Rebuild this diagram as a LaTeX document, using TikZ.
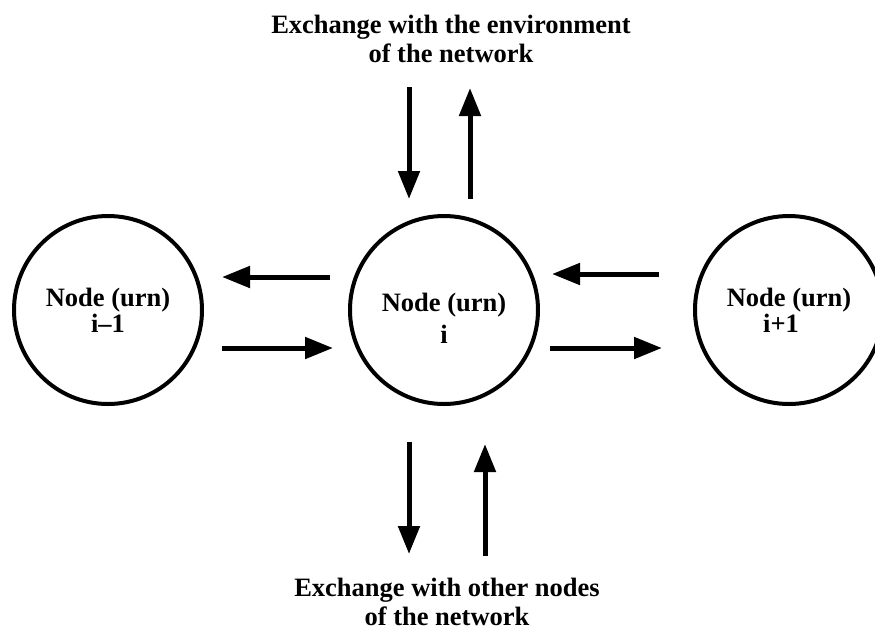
\documentclass[tikz,border=0pt]{standalone}
\usepackage{fontspec}
\setmainfont{Liberation Serif}
\usetikzlibrary{arrows.meta, positioning, calc}

\begin{document}
\begin{tikzpicture}[
    x=0.5pt, y=-0.5pt,
    node distance=168pt,
    urn/.style={circle, draw, line width=2pt, minimum size=94pt, inner sep=0pt, align=center, font=\fontsize{13.25}{13}\selectfont\bfseries},
    caption/.style={align=center, font=\fontsize{13.25}{14.5}\selectfont\bfseries},
    flow/.style={-{Triangle[length=14pt, width=10.5pt]}, line width=2.5pt}
]
    \useasboundingbox (0,0) rectangle (875,629);

    \node[urn] (mid) at (444,310) {\rule{0pt}{17.5pt}Node (urn)\\[3pt]i};
    \node[urn, left of=mid] (prev) {Node (urn)\\i--1};
    \node[urn, right of=mid, xshift=4.5pt] (next) {Node (urn)\\\hspace*{-8pt}i+1};

    \node[caption] (env) at (451,39) {Exchange with the environment\\of the network};
    \node[caption] (net) at (447,602) {Exchange with other nodes\\of the network};

    % between the urns
    \draw[flow] ($(mid.west)+(-18,-33)$) -- ($(prev.east)+(18,-33)$);
    \draw[flow] ($(prev.east)+(18,38)$) -- ($(mid.west)+(-15,38)$);
    \draw[flow] ($(next.west)+(-34,-36)$) -- ($(mid.east)+(12,-36)$);
    \draw[flow] ($(mid.east)+(10,38)$) -- ($(next.west)+(-31,38)$);

    % environment and other nodes
    \draw[flow] ($(mid.north)+(-35,-127)$) -- ($(mid.north)+(-35,-15)$);
    \draw[flow] ($(mid.north)+(26,-15)$) -- ($(mid.north)+(26,-126)$);
    \draw[flow] ($(mid.south)+(-35,36)$) -- ($(mid.south)+(-35,148)$);
    \draw[flow] ($(mid.south)+(41,150)$) -- ($(mid.south)+(41,38)$);
\end{tikzpicture}
\end{document}
